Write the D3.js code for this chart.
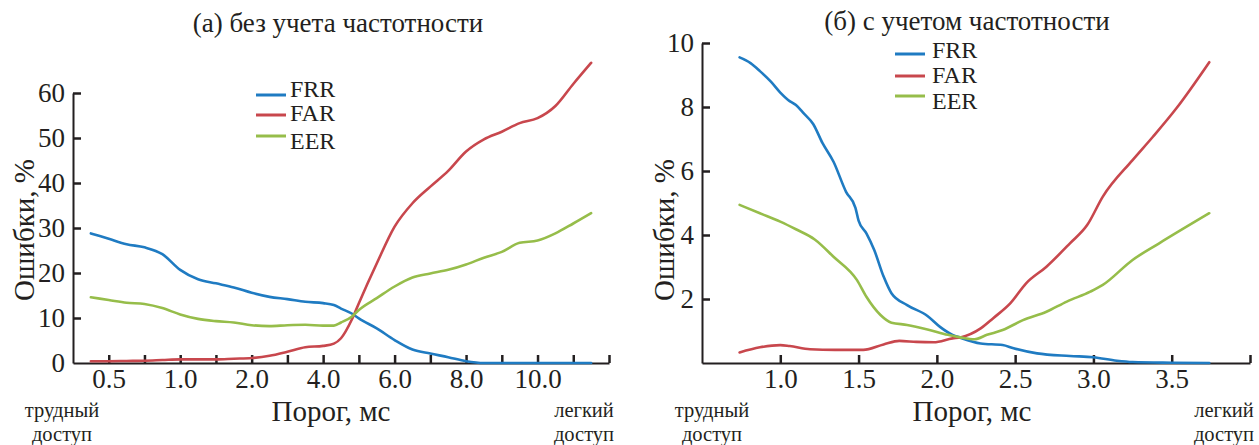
<!DOCTYPE html>
<html><head><meta charset="utf-8">
<script src="https://cdn.jsdelivr.net/npm/d3@7"></script>
<style>body{margin:0;background:#fff;} svg{display:block;} text{font-family:"Liberation Serif","Times New Roman",serif;fill:#231f20;}</style>
</head><body>
<script>
// ---- Data: panel (a) — x is position on the ordinal threshold scale (tick index)
const stepsA = [-0.5,0,0.5,1,1.5,2,2.5,3,3.5,4,4.5,5,5.5,6,6.3,6.5,6.8,7,7.5,8,8.5,9,9.5,10,10.5,11,11.5,12,12.5,13,13.5];
const frrA = [28.8,27.6,26.4,25.7,24.2,20.7,18.6,17.7,16.8,15.6,14.7,14.2,13.6,13.3,12.9,12.1,11.0,9.9,7.7,5.1,3.0,2.1,1.3,0.4,0,0,0,0,0,0,0];
const farA = [0.4,0.4,0.45,0.5,0.65,0.8,0.8,0.8,0.95,1.1,1.6,2.5,3.5,3.8,4.3,5.5,9.6,13.3,22.1,30.3,35.5,39.2,42.7,47.0,49.7,51.4,53.3,54.4,57.1,62.0,66.7];
const eerA = [14.6,14.0,13.4,13.1,12.2,10.8,9.8,9.3,9.0,8.4,8.2,8.4,8.5,8.3,8.3,9.0,10.3,11.8,14.4,17.0,19.0,19.9,20.7,21.9,23.4,24.7,26.7,27.2,28.8,31.0,33.3];
const tickLabelsA = ["0.5","","1.0","","2.0","","4.0","","6.0","","8.0","","10.0","",""];
const yTicksA = [0,10,20,30,40,50,60];

// ---- Data: panel (б) — threshold in ms
const frrBx = [0.74,0.81,0.87,0.94,1.00,1.05,1.10,1.15,1.21,1.27,1.34,1.42,1.48,1.50,1.55,1.60,1.66,1.71,1.81,1.94,2.02,2.10,2.15,2.28,2.42,2.49,2.64,2.85,3.00,3.15,3.25,3.50,3.74];
const frrBy = [9.55,9.37,9.12,8.79,8.45,8.22,8.06,7.80,7.47,6.87,6.29,5.35,4.85,4.45,4.05,3.53,2.70,2.18,1.81,1.47,1.13,0.88,0.79,0.61,0.56,0.46,0.30,0.22,0.18,0.07,0.03,0.01,0.0];
const farBx = [0.74,0.87,1.00,1.06,1.19,1.35,1.53,1.66,1.76,1.87,1.98,2.10,2.15,2.28,2.36,2.47,2.57,2.70,2.85,2.96,3.06,3.25,3.38,3.53,3.74];
const farBy = [0.33,0.49,0.56,0.53,0.43,0.41,0.41,0.58,0.69,0.66,0.65,0.77,0.80,1.08,1.40,1.87,2.49,3.01,3.74,4.31,5.20,6.34,7.07,7.96,9.40];
const eerBx = [0.74,0.87,1.00,1.10,1.22,1.34,1.49,1.55,1.64,1.71,1.81,1.94,2.07,2.15,2.24,2.32,2.42,2.55,2.70,2.83,2.98,3.06,3.25,3.42,3.74];
const eerBy = [4.94,4.68,4.42,4.18,3.86,3.32,2.59,2.07,1.50,1.26,1.19,1.05,0.88,0.80,0.74,0.88,1.03,1.34,1.60,1.92,2.23,2.44,3.22,3.74,4.68];
const xTicksB = [1.0,1.5,2.0,2.5,3.0,3.5,4.0];
const yTicksB = [2,4,6,8,10];

const seriesNames = ["FRR","FAR","EER"];
const colors = ["#1f7bc2","#c8474d","#96bd4a"];

const W = 1259, H = 445;
const FONT = "Liberation Serif";
const svg = d3.select("body").append("svg").attr("width",W).attr("height",H);
const ink = "#231f20";

function styleAxis(g){
  g.attr("font-family",FONT).attr("font-size",27);
  g.selectAll("path.domain").attr("stroke",ink).attr("stroke-width",2);
  g.selectAll(".tick line").attr("stroke",ink).attr("stroke-width",2.5);
  g.selectAll(".tick text").attr("font-family",FONT).style("font-family",FONT).style("font-size","27px").attr("fill",ink);
}

function panel(opt){
  const g = svg.append("g");
  const xAxis = d3.axisBottom(opt.x).tickValues(opt.xTicks).tickSizeInner(-8).tickSizeOuter(0).tickPadding(6).tickFormat(opt.xFmt);
  const gx = g.append("g").attr("transform",`translate(0,${opt.y.range()[0]})`).call(xAxis);
  styleAxis(gx);
  const yAxis = d3.axisLeft(opt.y).tickValues(opt.yTicks).tickSizeInner(-8).tickSizeOuter(0).tickPadding(8);
  const gy = g.append("g").attr("transform",`translate(${opt.x.range()[0]},0)`).call(yAxis);
  styleAxis(gy);
  gy.selectAll(".tick").filter(d=>d===0).select("line").remove();
  const line = d3.line().x(d=>opt.x(d[0])).y(d=>opt.y(d[1])).curve(d3.curveMonotoneX);
  opt.series.forEach((s,i)=>{
    g.append("path").datum(d3.zip(s[0],s[1])).attr("fill","none").attr("stroke",colors[i])
      .attr("stroke-width",2.6).attr("stroke-linejoin","round").attr("stroke-linecap","round").attr("d",line);
  });
  seriesNames.forEach((n,i)=>{
    g.append("line").attr("x1",opt.leg.x).attr("x2",opt.leg.x+30).attr("y1",opt.leg.ly[i]).attr("y2",opt.leg.ly[i])
      .attr("stroke",colors[i]).attr("stroke-width",3);
    g.append("text").attr("x",opt.leg.tx).attr("y",opt.leg.ty[i]).style("font-size","24px").text(n);
  });
  g.append("text").attr("x",opt.title.x).attr("y",opt.title.y).attr("text-anchor","middle").style("font-size","27px").text(opt.title.t);
  g.append("text").attr("transform",`translate(${opt.ylab.x},${opt.ylab.y}) rotate(-90)`).attr("text-anchor","middle").style("font-size","29px").text("Ошибки, %");
  g.append("text").attr("x",opt.xlab.x).attr("y",421).attr("text-anchor","middle").style("font-size","29px").text("Порог, мс");
  [["трудный",417],["доступ",441]].forEach(([t,y])=>g.append("text").attr("x",opt.left).attr("y",y).attr("text-anchor","middle").style("font-size","20.5px").text(t));
  [["легкий",417],["доступ",441]].forEach(([t,y])=>g.append("text").attr("x",opt.right).attr("y",y).attr("text-anchor","middle").style("font-size","20.5px").text(t));
}

const xA = d3.scaleLinear().domain([-1,14]).range([73,609]);
const yA = d3.scaleLinear().domain([0,60]).range([363,93]);
panel({
  x:xA, y:yA,
  xTicks:d3.range(tickLabelsA.length), xFmt:i=>tickLabelsA[i],
  yTicks:yTicksA,
  series:[[stepsA,frrA],[stepsA,farA],[stepsA,eerA]],
  leg:{x:256,tx:290,ly:[95,115,136],ty:[97,121,149]},
  title:{x:338,y:32,t:"(а) без учета частотности"},
  ylab:{x:34,y:230}, xlab:{x:331}, left:62, right:584
});

const xB = d3.scaleLinear().domain([0.5,4.0]).range([702,1250]);
const yB = d3.scaleLinear().domain([0,10]).range([363,43]);
panel({
  x:xB, y:yB,
  xTicks:xTicksB, xFmt:d=>d>=4?"":d3.format(".1f")(d),
  yTicks:yTicksB,
  series:[[frrBx,frrBy],[farBx,farBy],[eerBx,eerBy]],
  leg:{x:895,tx:932,ly:[54,76,96],ty:[58,83,109]},
  title:{x:967,y:30,t:"(б) с учетом частотности"},
  ylab:{x:674,y:230}, xlab:{x:972}, left:712, right:1224
});
</script>
</body></html>
